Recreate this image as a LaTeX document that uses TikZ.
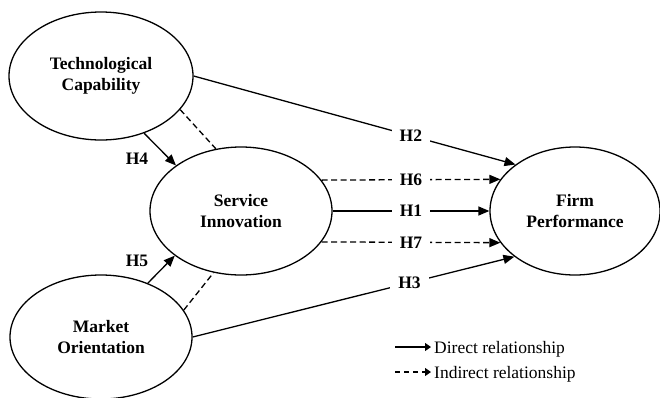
\documentclass[tikz,border=0pt]{standalone}
\usepackage{fontspec}
\setmainfont{Liberation Serif}
\usetikzlibrary{shapes.geometric,arrows.meta}
\begin{document}
\begin{tikzpicture}[x=1pt,y=-1pt,
  construct/.style={ellipse,draw,line width=1.3pt,inner sep=0pt,align=center,
    font=\fontsize{17.5}{21}\selectfont\bfseries},
  conn/.style={line width=1.3pt,-{Triangle[length=11pt,width=9pt]}},
  dconn/.style={conn,dash pattern=on 6pt off 3.5pt},
  dline/.style={line width=1.3pt,dash pattern=on 6pt off 3.5pt},
  lbl/.style={fill=white,inner xsep=8pt,inner ysep=2pt,font=\fontsize{17.5}{21}\selectfont\bfseries},
  hlbl/.style={inner sep=1pt,font=\fontsize{17.5}{21}\selectfont\bfseries},
  legtext/.style={anchor=base west,inner sep=0pt,font=\fontsize{17.5}{21}\selectfont},
  legarrow/.style={line width=1.1pt,-{Triangle[length=6pt,width=8pt]}},
  dlegarrow/.style={legarrow,dash pattern=on 5pt off 4pt}
]
\useasboundingbox (0,0) rectangle (660,397);

\node[construct, minimum width=184pt, minimum height=128pt] (TC) at (101,76) {Technological\\Capability};
\node[construct, minimum width=182pt, minimum height=128pt] (SI) at (241,211) {Service\\Innovation};
\node[construct, minimum width=170pt, minimum height=128pt] (FP) at (575,211) {Firm\\Performance};
\node[construct, minimum width=182pt, minimum height=124pt] (MO) at (101,337) {Market\\Orientation};

\draw[conn] (SI.east) -- node[lbl]{H1} (FP.west);
\draw[dconn] (SI.21.28) -- node[lbl]{H6} (FP.157.38);
\draw[dconn] (SI.-21.28) -- node[lbl]{H7} (FP.-157.38);
\draw[conn] (TC.east) -- node[lbl,pos=0.675]{H2} (FP.142.5);
\draw[conn] (MO.east) -- node[lbl,pos=0.674]{H3} (FP.217.5);

\draw[conn] (TC.-53.6) -- (SI.145.1);
\draw[dline] (TC.-23.7) -- (SI.112.4);
\draw[conn] (MO.49.6) -- (SI.214.9);
\draw[dline] (MO.18.2) -- (SI.246.1);

\node[hlbl] (h4) at (137,159) {H4};
\node[hlbl] (h5) at (137,261) {H5};

\node[legtext] (t1) at (434,353) {Direct relationship};
\node[legtext] (t2) at (434,378) {Indirect relationship};
\coordinate (l1) at (395,347);
\coordinate (l2) at (395,372);
\draw[legarrow] (l1) -- ([xshift=-3pt]l1 -| t1.west);
\draw[dlegarrow] (l2) -- ([xshift=-3pt]l2 -| t2.west);
\end{tikzpicture}
\end{document}
